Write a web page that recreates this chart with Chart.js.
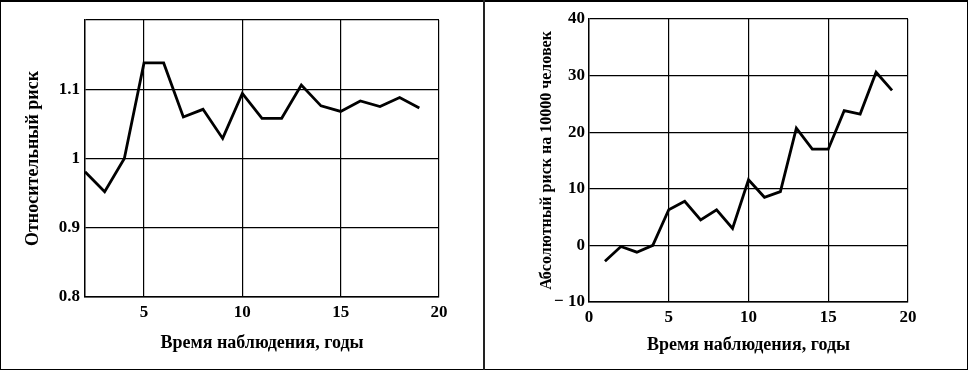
<!DOCTYPE html>
<html>
<head>
<meta charset="utf-8">
<script src="https://cdn.jsdelivr.net/npm/chart.js@4/dist/chart.umd.min.js"></script>
<style>
  body { margin: 0; background: #fff; }
  #wrap { position: relative; width: 969px; height: 371px; }
  canvas { position: absolute; top: 0; }
  #frame { position: absolute; left: 0; top: 0; width: 968px; height: 370px; box-sizing: border-box; border: 1px solid #000; border-top-width: 2px; pointer-events: none; }
  #divider { position: absolute; left: 483px; top: 0; width: 2px; height: 370px; background: #222; }
</style>
</head>
<body>
<div id="wrap">
  <canvas id="relChart" width="483" height="371" style="left:0"></canvas>
  <canvas id="absChart" width="484" height="371" style="left:485px"></canvas>
  <div id="frame"></div>
  <div id="divider"></div>
</div>
<script>
// left chart: relative risk
const relYears = [2, 3, 4, 5, 6, 7, 8, 9, 10, 11, 12, 13, 14, 15, 16, 17, 18, 19]
const relRisk = [0.981, 0.952, 1.0, 1.138, 1.138, 1.060, 1.071, 1.029, 1.094, 1.058, 1.058, 1.106, 1.076, 1.068, 1.083, 1.075, 1.088, 1.073]
const relXTicks = [5, 10, 15, 20]
const relYTicks = [0.8, 0.9, 1, 1.1]

// right chart: absolute risk per 10000
const absYears = [1, 2, 3, 4, 5, 6, 7, 8, 9, 10, 11, 12, 13, 14, 15, 16, 17, 18, 19]
const absRisk = [-2.8, -0.2, -1.2, 0, 6.3, 7.8, 4.5, 6.3, 3.0, 11.6, 8.5, 9.5, 20.7, 17.0, 17.0, 23.8, 23.2, 30.6, 27.4]
const absXTicks = [0, 5, 10, 15, 20]
const absYTicks = [-10, 0, 10, 20, 30, 40]

const xTitle = 'Время наблюдения, годы'
const relTitle = 'Относительный риск'
const absTitle = 'Абсолютный риск на 10000 человек'

const tickFont = { family: 'Liberation Serif', size: 17, weight: 'bold' }
const titleFont = { family: 'Liberation Serif', size: 18, weight: 'bold' }

function fmt(v) {
  return v < 0 ? '\u2212 ' + Math.abs(v) : String(v)
}

function makeChart(id, xs, ys, cfg) {
  const ctx = document.getElementById(id).getContext('2d');
  return new Chart(ctx, {
    type: 'line',
    data: {
      datasets: [{
        data: xs.map((x, i) => ({ x: x, y: ys[i] })),
        borderColor: '#000',
        borderWidth: 2.8,
        pointRadius: 0,
        tension: 0,
        fill: false
      }]
    },
    options: {
      responsive: false,
      animation: false,
      layout: { padding: { top: cfg.padTop, right: cfg.padRight, left: 0, bottom: 0 } },
      plugins: { legend: { display: false }, tooltip: { enabled: false } },
      scales: {
        x: {
          type: 'linear',
          min: cfg.xMin,
          max: cfg.xMax,
          afterBuildTicks: s => {
            s.ticks = [...new Set([cfg.xMin, ...cfg.xTicks, cfg.xMax])].map(v => ({ value: v }))
          },
          afterFit: s => { s.height = cfg.xHeight },
          ticks: {
            color: '#000',
            font: tickFont,
            padding: 5,
            maxRotation: 0,
            autoSkip: false,
            callback: v => cfg.xTicks.includes(v) ? fmt(v) : ''
          },
          grid: { color: '#000', lineWidth: 1.2, drawTicks: false },
          border: { color: '#000', width: 1.4 },
          title: {
            display: true,
            text: xTitle,
            color: '#000',
            font: titleFont,
            padding: { top: 0, bottom: cfg.xTitlePad }
          }
        },
        y: {
          min: cfg.yMin,
          max: cfg.yMax,
          afterBuildTicks: s => {
            s.ticks = [...new Set([cfg.yMin, ...cfg.yTicks, cfg.yMax])].map(v => ({ value: v }))
          },
          afterFit: s => { s.width = cfg.yWidth },
          ticks: {
            color: '#000',
            font: tickFont,
            padding: cfg.yTickPad,
            autoSkip: false,
            callback: v => cfg.yTicks.includes(v) ? fmt(v) : ''
          },
          grid: { color: '#000', lineWidth: 1.2, drawTicks: false },
          border: { color: '#000', width: 1.4 },
          title: {
            display: true,
            text: cfg.yTitle,
            color: '#000',
            font: { ...titleFont, size: cfg.yTitleSize },
            padding: { top: cfg.yTitlePad, bottom: 0 }
          }
        }
      }
    }
  });
}

makeChart('relChart', relYears, relRisk, {
  xMin: 2, xMax: 20, yMin: 0.8, yMax: 1.2,
  xTicks: relXTicks, yTicks: relYTicks,
  yTitle: relTitle, yTitleSize: 18,
  padTop: 20, padRight: 44, xHeight: 74, yWidth: 85,
  xTitlePad: 17, yTitlePad: 23, yTickPad: 5
});

makeChart('absChart', absYears, absRisk, {
  xMin: 0, xMax: 20, yMin: -10, yMax: 40,
  xTicks: absXTicks, yTicks: absYTicks,
  yTitle: absTitle, yTitleSize: 16,
  padTop: 19, padRight: 61, xHeight: 69, yWidth: 104,
  xTitlePad: 15, yTitlePad: 52, yTickPad: 4
});
</script>
</body>
</html>
